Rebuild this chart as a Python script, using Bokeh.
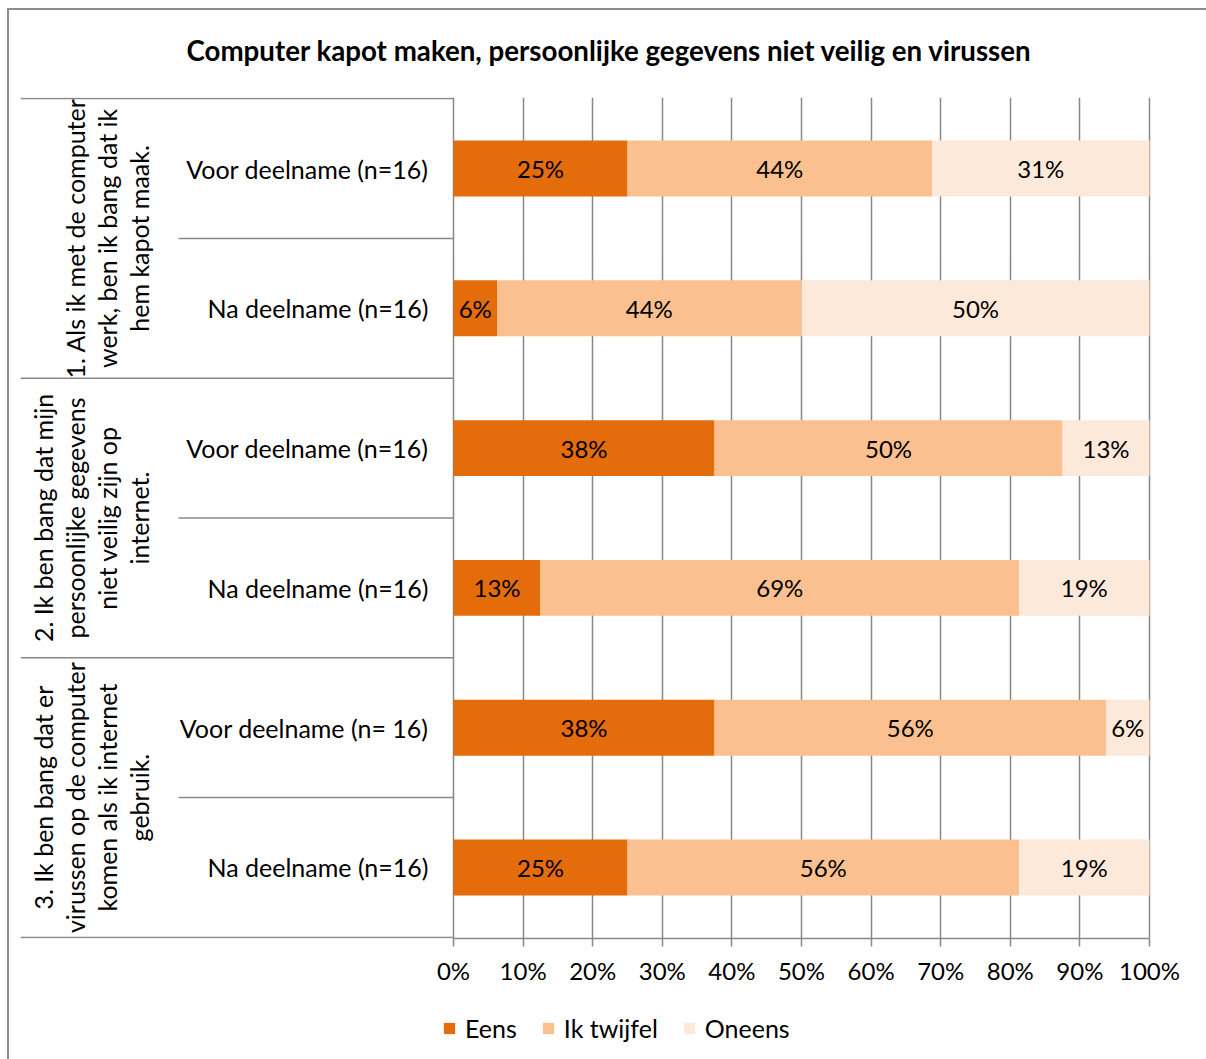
import math
from bokeh.plotting import figure
from bokeh.layouts import column
from bokeh.models import (Range1d, FixedTicker, NumeralTickFormatter, ColumnDataSource,
                          Legend, LegendItem)
from bokeh.core.properties import value
from bokeh.embed import file_html
from bokeh.resources import INLINE

# ---- data -------------------------------------------------------------
title_text = "Computer kapot maken, persoonlijke gegevens niet veilig en virussen"

statements = [
    ["1. Als ik met de computer", "werk, ben ik bang dat ik", "hem kapot maak."],
    ["2. Ik ben bang dat mijn", "persoonlijke gegevens", "niet veilig zijn op", "internet."],
    ["3. Ik ben bang dat er", "virussen op de computer", "komen als ik internet", "gebruik."],
]
moments = [
    "Voor deelname (n=16)", "Na deelname (n=16)",
    "Voor deelname (n=16)", "Na deelname (n=16)",
    "Voor deelname (n= 16)", "Na deelname (n=16)",
]
n_resp = 16
eens = [4, 1, 6, 2, 6, 4]
twijfel = [7, 7, 8, 11, 9, 9]
oneens = [5, 8, 2, 3, 1, 3]

series = ["Eens", "Ik twijfel", "Oneens"]
colors = ["#E46C0A", "#FAC090", "#FDE9D9"]
x_ticks = [0, 0.1, 0.2, 0.3, 0.4, 0.5, 0.6, 0.7, 0.8, 0.9, 1.0]

FONT = "Lato"
GRID = "#888888"

# ---- derived values ----------------------------------------------------
n_rows = len(moments)
ypos = [n_rows - 0.5 - i for i in range(n_rows)]
shares = {
    "eens": [c / n_resp for c in eens],
    "twijfel": [c / n_resp for c in twijfel],
    "oneens": [c / n_resp for c in oneens],
}
src = ColumnDataSource(dict(y=ypos, **shares))

PX = 696.0                 # pixels per 100 %
X_LEFT = -433 / PX         # left edge of the category label column
X_RIGHT = 1 + 57 / PX      # frame runs to the right edge of the canvas
X_SUB = -275 / PX          # start of the sub-category separators
X_MOMENT = -25 / PX        # right edge of the moment labels

fig = figure(width=1206, height=995, output_backend="svg", toolbar_location=None,
             x_range=Range1d(X_LEFT, X_RIGHT), y_range=Range1d(-0.008, n_rows + 0.008),
             y_axis_location=None, min_border_left=20, min_border_right=0,
             min_border_top=97, min_border_bottom=57,
             background_fill_color=None, border_fill_color=None)
fig.outline_line_color = None

# title
fig.title.text = title_text
fig.title.text_font = FONT
fig.title.text_font_size = "27.7px"
fig.title.text_font_style = "bold"
fig.title.text_color = "#000000"
fig.title.align = "left"
fig.title.offset = 166
fig.title.standoff = 62

# x axis / grid
ax = fig.xaxis[0]
ax.ticker = FixedTicker(ticks=x_ticks)
ax.formatter = NumeralTickFormatter(format="0%")
ax.bounds = (0, 1)
ax.axis_line_color = GRID
ax.axis_line_width = 1.5
ax.major_tick_line_color = GRID
ax.major_tick_line_width = 1.5
ax.major_tick_in = 0
ax.major_tick_out = 8
ax.minor_tick_line_color = None
ax.major_label_standoff = 9
ax.major_label_text_font = FONT
ax.major_label_text_font_size = "24px"
ax.major_label_text_color = "#000000"

fig.xgrid.ticker = FixedTicker(ticks=x_ticks)
fig.xgrid.bounds = (0, 1)
fig.xgrid.grid_line_color = GRID
fig.xgrid.grid_line_width = 1.5
fig.ygrid.grid_line_color = None

# stacked bars
fig.hbar_stack(["eens", "twijfel", "oneens"], y="y", height=0.4,
               color=colors, line_color=None, source=src)

# value labels at segment centres
lx, ly, lt = [], [], []
for i in range(n_rows):
    left = 0.0
    for key in ["eens", "twijfel", "oneens"]:
        v = shares[key][i]
        lx.append(left + v / 2)
        ly.append(ypos[i])
        lt.append(f"{int(v * 100 + 0.5)}%")
        left += v
fig.text(x=lx, y=ly, text=lt, text_align="center", text_baseline="middle",
         text_font=value(FONT), text_font_size="24px", text_color="#000000")

# moment labels
fig.text(x=[X_MOMENT] * n_rows, y=ypos, text=moments, text_align="right",
         text_baseline="middle", text_font=value(FONT), text_font_size="25px",
         text_color="#000000")

# statement labels, one rotated glyph per line
per = n_rows // len(statements)
st_x, st_y, st_t = [], [], []
for g, lines in enumerate(statements):
    nl = len(lines)
    for j, line in enumerate(lines):
        cx_px = 138 - (nl - 1 - j) * 32
        st_x.append(X_LEFT + (cx_px - 20) / PX)
        st_y.append(n_rows - per * g - per / 2)
        st_t.append(line)
fig.text(x=st_x, y=st_y, text=st_t, angle=math.pi / 2, text_align="center",
         text_baseline="middle", text_font=value(FONT), text_font_size="25px",
         text_color="#000000")

# category separators
grp_y = [n_rows - per * g for g in range(len(statements) + 1)]
sub_y = [n_rows - per * g - 1 for g in range(len(statements))]
fig.segment(x0=[X_LEFT] * len(grp_y), x1=[0] * len(grp_y), y0=grp_y, y1=grp_y,
            line_color=GRID, line_width=1.5)
fig.segment(x0=[X_SUB] * len(sub_y), x1=[0] * len(sub_y), y0=sub_y, y1=sub_y,
            line_color=GRID, line_width=1.5)

# legend strip under the chart; its zero-height bars only supply the swatches
leg = figure(width=1206, height=64, output_backend="svg", toolbar_location=None,
             x_range=Range1d(0, 1), y_range=Range1d(0, n_rows),
             x_axis_location=None, y_axis_location=None,
             min_border_left=0, min_border_right=0, min_border_top=0, min_border_bottom=0,
             background_fill_color=None, border_fill_color=None)
leg.outline_line_color = None
leg.grid.visible = False
swatches = leg.hbar_stack(["eens", "twijfel", "oneens"], y="y", height=0,
                          color=colors, line_color=None, source=src)
legend = Legend(items=[LegendItem(label=lab, renderers=[r]) for lab, r in zip(series, swatches)],
                orientation="horizontal", location=(422, 16),
                glyph_width=14, glyph_height=14, label_standoff=9, spacing=24,
                label_text_font=FONT, label_text_font_size="25px",
                label_text_color="#000000",
                border_line_color=None, background_fill_color=None,
                margin=0, padding=0)
leg.add_layout(legend)

p = column(fig, leg, spacing=0,
           styles={"background":
                   "linear-gradient(#8c8c8c,#8c8c8c) 7px 8px / 2px 100% no-repeat,"
                   "linear-gradient(#8c8c8c,#8c8c8c) 7px 8px / 100% 2px no-repeat,"
                   "#ffffff"})

open("out.html", "w").write(file_html(p, INLINE))
